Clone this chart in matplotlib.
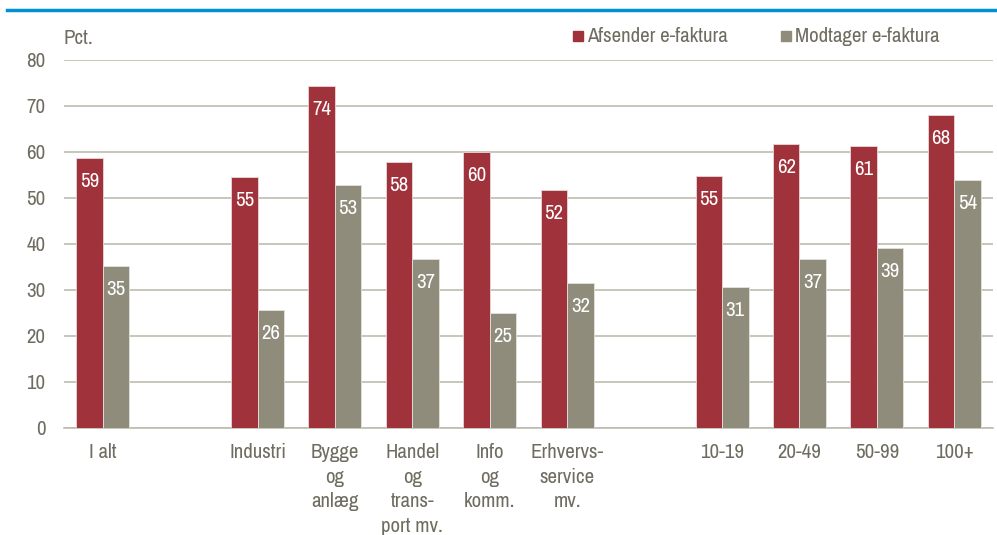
import numpy as np
import matplotlib
matplotlib.use("Agg")
import matplotlib.pyplot as plt
from matplotlib import font_manager
from matplotlib.patches import Rectangle
from matplotlib.lines import Line2D

# data
categories = ["I alt", "", "Industri", "Bygge\nog\nanlæg", "Handel\nog\ntrans-\nport mv.",
              "Info\nog\nkomm.", "Erhvervs-\nservice\nmv.", "",
              "10-19", "20-49", "50-99", "100+"]
afsender = [58.7, None, 54.6, 74.3, 57.8, 59.9, 51.7, None, 54.8, 61.7, 61.2, 68.0]
modtager = [35.2, None, 25.6, 52.8, 36.7, 24.9, 31.5, None, 30.7, 36.6, 39.1, 53.8]
series_names = ["Afsender e-faktura", "Modtager e-faktura"]
yticks = [0, 10, 20, 30, 40, 50, 60, 70, 80]

RED = "#9F323B"
GRAY = "#8F8C7C"
GRID = "#BDBCAE"
TXT = "#6F6C60"

names = {f.name for f in font_manager.fontManager.ttflist}
cands = ["Liberation Sans Narrow", "Arial Narrow", "Archivo Narrow", "PT Sans Narrow",
         "Roboto Condensed", "Fira Sans Condensed", "Open Sans Condensed",
         "Encode Sans Condensed", "Asap Condensed", "IBM Plex Sans Condensed"]
fam = next((c for c in cands if c in names), "DejaVu Sans")
plt.rcParams['font.family'] = [fam, "DejaVu Sans"]
FS = 15

fig = plt.figure(figsize=(9.97, 5.35), dpi=100)
ax = fig.add_axes([64 / 997, 107.3 / 535, 929 / 997, 367.7 / 535])

# blue rule at the top
fig.add_artist(Line2D([7 / 997, 1], [1 - 10 / 535, 1 - 10 / 535],
                      color="#0090D6", lw=2.5, transform=fig.transFigure))

w = 0.342
x = np.arange(len(categories))
for i, (a, m) in enumerate(zip(afsender, modtager)):
    if a is None:
        continue
    ax.bar(x[i] - w / 2, a, w, color=RED, edgecolor="#E8D8D8", lw=0.6, zorder=3)
    ax.bar(x[i] + w / 2, m, w, color=GRAY, edgecolor="#E4E2DA", lw=0.6, zorder=3)
    ax.text(x[i] - w / 2, a - 5.1, "{:.0f}".format(a), color="white",
            ha="center", va="center", fontsize=FS, zorder=4)
    ax.text(x[i] + w / 2, m - 5.1, "{:.0f}".format(m), color="white",
            ha="center", va="center", fontsize=FS, zorder=4)

ax.set_xlim(-0.5, len(categories) - 0.5)
ax.set_ylim(0, 80)
ax.set_yticks(yticks)
ax.yaxis.grid(True, color=GRID, lw=1.2, zorder=0)
ax.set_axisbelow(True)
for s in ("left", "right", "top"):
    ax.spines[s].set_visible(False)
ax.spines["bottom"].set_color(GRID)
ax.spines["bottom"].set_linewidth(1.2)
ax.tick_params(axis="y", length=0, pad=13.5, labelsize=FS, labelcolor=TXT)
ax.tick_params(axis="x", length=0, pad=11, labelsize=FS, labelcolor=TXT)
ax.set_xticks(x)
ax.set_xticklabels(categories, linespacing=1.38)

fig.text(63 / 997, 1 - 38 / 535, "Pct.", color=TXT, fontsize=FS,
         ha="left", va="center")

# legend drawn by hand so the entries sit where the reference has them
legend_pos = [573, 781]
for nm, col, px in zip(series_names, [RED, GRAY], legend_pos):
    fig.add_artist(Rectangle((px / 997, 1 - 41 / 535), 10 / 997, 10 / 535,
                             color=col, transform=fig.transFigure))
    fig.text((px + 14) / 997, 1 - 36 / 535, nm, color=TXT, fontsize=FS,
             ha="left", va="center")

fig.savefig("out.png", dpi=100)
plt.close()
